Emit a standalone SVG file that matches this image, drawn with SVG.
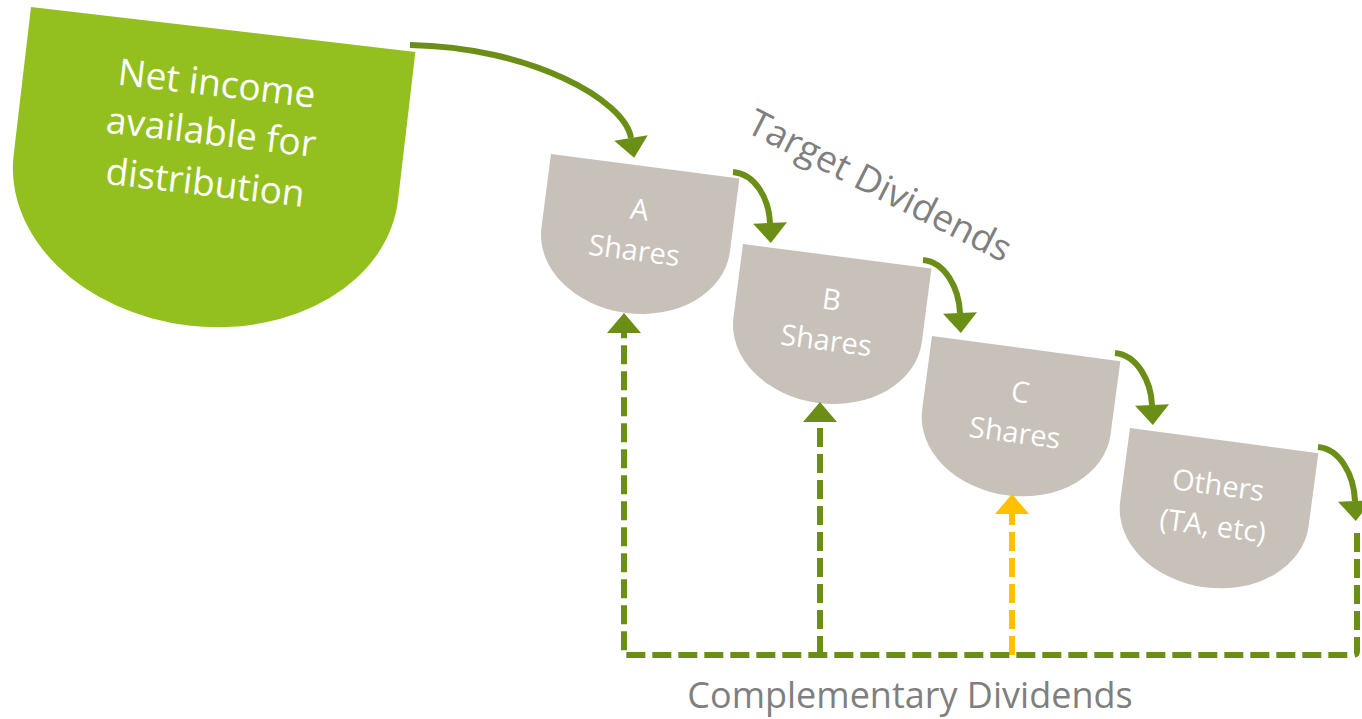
<svg xmlns="http://www.w3.org/2000/svg" width="1362" height="719" viewBox="0 0 1362 719">
<style>
.cup{fill:#C7C1B9}
.src{fill:#93C01F}
.lbl{font-family:"Open Sans","Noto Sans","Liberation Sans",sans-serif;fill:#FFFFFF;text-anchor:middle}
.cap{font-family:"Open Sans","Noto Sans","Liberation Sans",sans-serif;fill:#7F7F7F;text-anchor:middle}
.flow{fill:none;stroke:#6B8E16;stroke-width:6}
.dash{fill:none;stroke:#6B8E16;stroke-width:6;stroke-dasharray:19 7}
.dashy{fill:none;stroke:#FFC000;stroke-width:6;stroke-dasharray:19 7}
</style>
<defs>
<path id="cupShape" d="M0,0 H190 V74 A95,74 0 0 1 0,74 Z"/>
<marker id="headG" markerUnits="userSpaceOnUse" orient="auto" markerWidth="22" markerHeight="36" refX="0" refY="17" viewBox="0 0 22 34" overflow="visible">
<path d="M0,0 L20,17 L0,34 Z" fill="#6B8E16"/>
</marker>
<marker id="headY" markerUnits="userSpaceOnUse" orient="auto" markerWidth="22" markerHeight="36" refX="0" refY="17" viewBox="0 0 22 34" overflow="visible">
<path d="M0,0 L20,17 L0,34 Z" fill="#FFC000"/>
</marker>
</defs>

<g id="net-income" transform="translate(31,7) rotate(6.68)">
<path class="src" d="M0,0 H387 V149 A193.5,149 0 0 1 0,149 Z"/>
<text class="lbl" font-size="37" x="193.5" y="67">Net income</text>
<text class="lbl" font-size="37" x="193.5" y="116">available for</text>
<text class="lbl" font-size="37" x="193.5" y="167">distribution</text>
</g>

<g id="a-shares" transform="translate(551,154) rotate(7.4)">
<use href="#cupShape" class="cup"/>
<text class="lbl" font-size="29" x="95" y="54">A</text>
<text class="lbl" font-size="29" x="95" y="95">Shares</text>
</g>

<g id="b-shares" transform="translate(743,244) rotate(7.4)">
<use href="#cupShape" class="cup"/>
<text class="lbl" font-size="29" x="95" y="54">B</text>
<text class="lbl" font-size="29" x="95" y="95">Shares</text>
</g>

<g id="c-shares" transform="translate(932,336) rotate(7.6)">
<use href="#cupShape" class="cup"/>
<text class="lbl" font-size="29" x="95" y="54">C</text>
<text class="lbl" font-size="29" x="95" y="95">Shares</text>
</g>

<g id="others" transform="translate(1130,428) rotate(7.6)">
<use href="#cupShape" class="cup"/>
<text class="lbl" font-size="29" x="95" y="55">Others</text>
<text class="lbl" font-size="29" x="95" y="96">(TA, etc)</text>
</g>

<g id="label-target">
<text class="cap" font-size="37" transform="translate(874,197) rotate(27)">Target Dividends</text>
</g>
<g id="label-complementary">
<text class="cap" font-size="36" x="910" y="708">Complementary Dividends</text>
</g>

<g id="connectors">
<path class="flow" d="M410,45 C530,47 625,100 631,138" marker-end="url(#headG)"/>
<path class="flow" d="M733,172 C755,174 769,198 770,223" marker-end="url(#headG)"/>
<path class="flow" d="M923,260 C945,262 959,288 960,313" marker-end="url(#headG)"/>
<path class="flow" d="M1115,353 C1137,355 1151,381 1152,405" marker-end="url(#headG)"/>
<path class="flow" d="M1318,447 C1340,449 1354,475 1355,501" marker-end="url(#headG)"/>
<path class="dashy" d="M1012,655 V514" marker-end="url(#headY)"/>
<path class="dash" d="M1357,533 V651 Q1357,655 1353,655 H624 V333" marker-end="url(#headG)"/>
<path class="dash" d="M820,655 V422" marker-end="url(#headG)"/>
</g>
</svg>
